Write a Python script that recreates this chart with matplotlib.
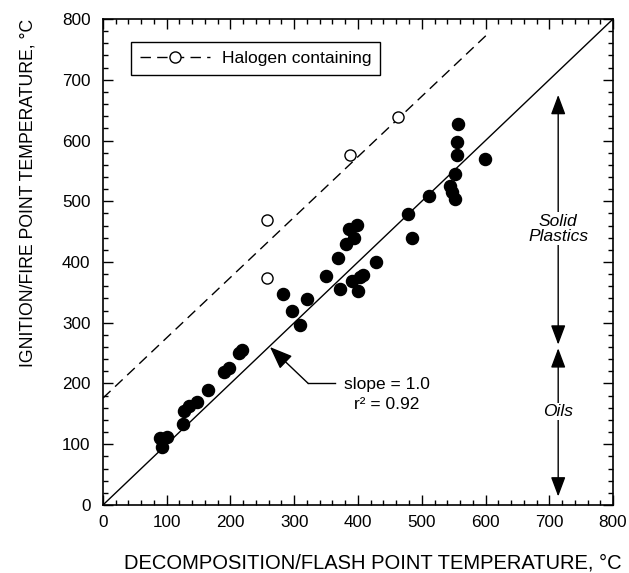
import matplotlib
matplotlib.use("Agg")
import matplotlib.pyplot as plt
from matplotlib.lines import Line2D

plt.rcParams['font.family'] = ['Liberation Sans', 'DejaVu Sans']
plt.rcParams['lines.scale_dashes'] = False

# ── Data ──────────────────────────────────────────────────────────────────────
# filled: all materials (decomposition/flash point vs ignition/fire point)
x_all = [92, 90, 101, 125, 127, 135, 147, 164, 190, 198, 214, 218,
         283, 297, 309, 320, 350, 368, 372, 381, 386, 399, 393, 390,
         400, 403, 408, 428, 479, 484, 512, 544, 547, 552, 552, 555,
         555, 557, 599]
y_all = [95, 110, 112, 134, 154, 163, 170, 190, 219, 226, 250, 255,
         347, 320, 296, 339, 377, 406, 355, 430, 455, 461, 439, 368,
         353, 375, 379, 400, 479, 439, 508, 525, 516, 503, 545, 576,
         598, 628, 570]

# open: halogen containing
x_halo = [257, 257, 387, 463]
y_halo = [469, 374, 576, 639]
halo_fit_x = [0, 602]
halo_fit_y = [176, 774]

# slope = 1 line
unity_x = [0, 800]
unity_y = [0, 800]

DASH = (7.5, 4.5)

# ── Plot ──────────────────────────────────────────────────────────────────────
fig = plt.figure(figsize=(6.29, 5.73), dpi=100)
ax = fig.add_axes([0.1637, 0.1187, 0.8109, 0.8481])

ax.plot(unity_x, unity_y, color='black', lw=1.0)
ax.plot(halo_fit_x, halo_fit_y, color='black', lw=1.0, dashes=DASH)
ax.plot(x_all, y_all, 'o', color='black', ms=8.7, ls='none')
ax.plot(x_halo, y_halo, 'o', mfc='white', mec='black', mew=1.0, ms=8, ls='none')

ax.set_xlim(0, 800); ax.set_ylim(0, 800)
ax.set_xticks(range(0, 801, 100)); ax.set_yticks(range(0, 801, 100))
ax.set_xticks(range(0, 801, 20), minor=True); ax.set_yticks(range(0, 801, 20), minor=True)
ax.tick_params(which='both', direction='in', top=True, right=True, width=1.0)
ax.tick_params(which='major', length=7, labelsize=12.3)
ax.tick_params(which='minor', length=3.5)
ax.tick_params(axis='y', pad=9); ax.tick_params(axis='x', pad=7)
for s in ax.spines.values():
    s.set_linewidth(1.2)

ax.set_xlabel("DECOMPOSITION/FLASH POINT TEMPERATURE, °C", fontsize=14.5)
ax.set_ylabel("IGNITION/FIRE POINT TEMPERATURE, °C", fontsize=12.7)
ax.xaxis.set_label_coords(0.53, -0.1)
ax.yaxis.set_label_coords(-0.13, 0.642)

# legend
h = Line2D([], [], color='black', lw=1.0, dashes=DASH, marker='o',
           mfc='white', mec='black', ms=8)
leg = ax.legend([h], ["Halogen containing"], loc='upper left',
                bbox_to_anchor=(0.055, 0.953), borderaxespad=0, numpoints=1,
                fontsize=12.6, handlelength=4.0, fancybox=False, framealpha=1,
                edgecolor='black', borderpad=0.5, handletextpad=0.7)
leg.get_frame().set_linewidth(1.0)

# slope annotation
ax.plot([322, 364], [200, 200], color='black', lw=1.0)
ax.annotate('', xy=(262, 260), xytext=(322, 200),
            arrowprops=dict(arrowstyle='-|>,head_length=1.4,head_width=0.55',
                            color='black', lw=1.0, shrinkA=0, shrinkB=0))
ax.text(445, 198, "slope = 1.0", ha='center', va='center', fontsize=12.5)
ax.text(445, 165, "r² = 0.92", ha='center', va='center', fontsize=12.5)

# range arrows
arr = dict(arrowstyle='<|-|>,head_length=1.2,head_width=0.45', color='black',
           lw=1.0, shrinkA=0, shrinkB=0)
ax.annotate('', xy=(714, 675), xytext=(714, 264), arrowprops=arr)
ax.annotate('', xy=(714, 258), xytext=(714, 14), arrowprops=arr)
ax.text(714, 455, "Solid\nPlastics", ha='center', va='center', fontsize=12.5,
        style='italic', linespacing=1.0,
        bbox=dict(facecolor='white', edgecolor='none', pad=1))
ax.text(714, 154, "Oils", ha='center', va='center', fontsize=12.5,
        style='italic', bbox=dict(facecolor='white', edgecolor='none', pad=1))

plt.savefig("out.png", dpi=100)
